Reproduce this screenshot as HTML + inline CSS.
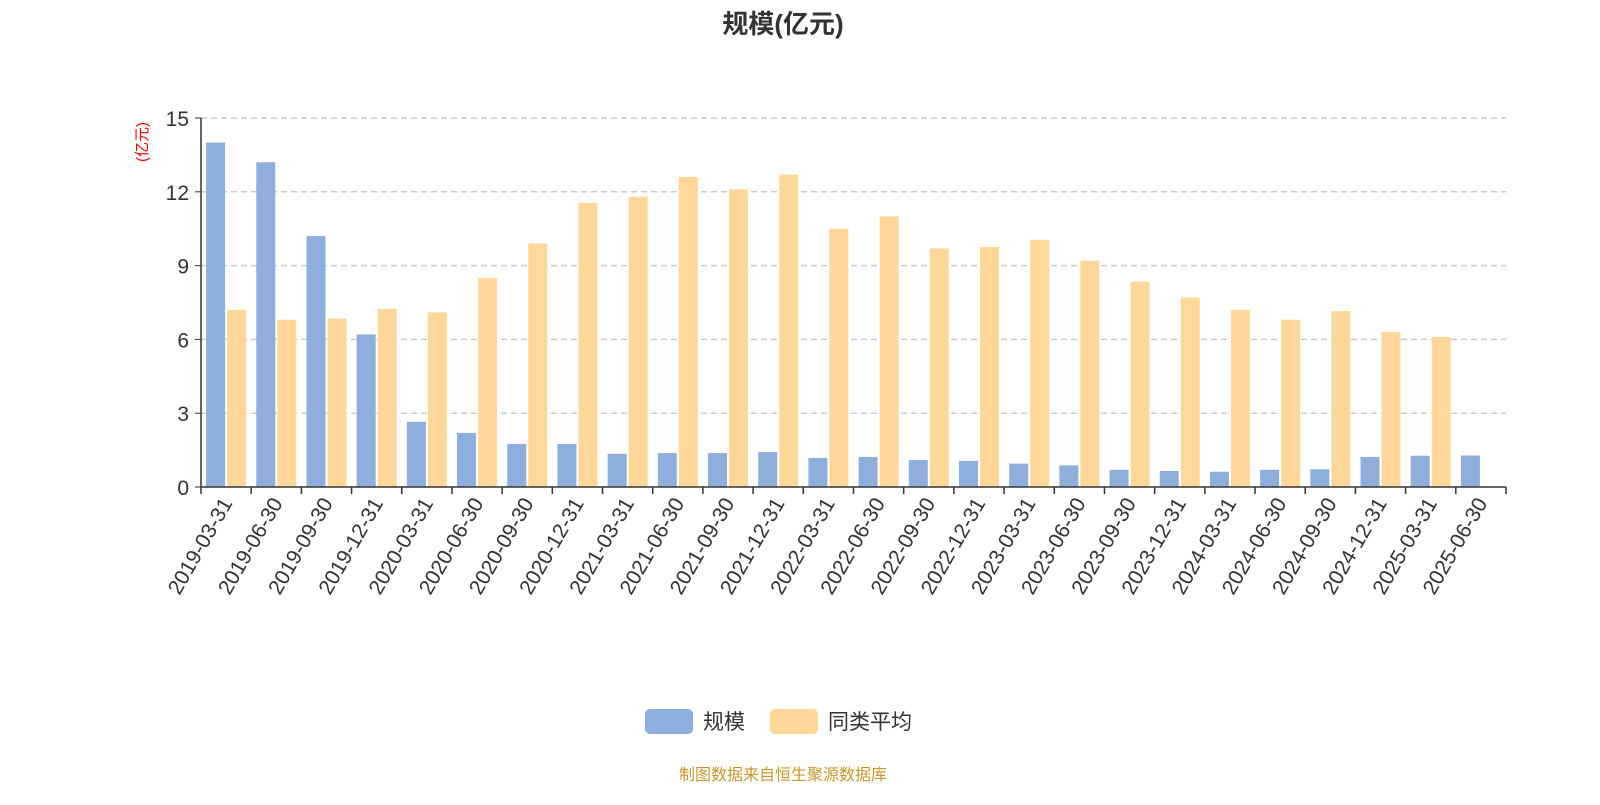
<!DOCTYPE html>
<html><head><meta charset="utf-8"><style>
body{margin:0;background:#fff;font-family:"Liberation Sans","Noto Sans CJK SC",sans-serif}
</style></head><body>
<svg id="c" width="1600" height="800" xmlns="http://www.w3.org/2000/svg" style="font-family:'Liberation Sans','Noto Sans CJK SC',sans-serif">
<text x="783" y="33" text-anchor="middle" font-size="26" font-weight="bold" fill="#333">规模(亿元)</text>
<text transform="translate(147,142) rotate(-90)" text-anchor="middle" font-size="15" fill="#e00">(亿元)</text>
<g id="grid"></g><g id="bars"></g><g id="axes"></g>
<g>
<rect x="645" y="709" width="48" height="25" rx="5" fill="#8eaedb"/>
<text x="703" y="729" font-size="21" fill="#333">规模</text>
<rect x="770" y="709" width="48" height="25" rx="5" fill="#ffd899"/>
<text x="828" y="729" font-size="21" fill="#333">同类平均</text>
</g>
<text x="783" y="780" text-anchor="middle" font-size="16" fill="#c8962a">制图数据来自恒生聚源数据库</text>
</svg>
<script>
const categories=["2019-03-31","2019-06-30","2019-09-30","2019-12-31","2020-03-31","2020-06-30","2020-09-30","2020-12-31","2021-03-31","2021-06-30","2021-09-30","2021-12-31","2022-03-31","2022-06-30","2022-09-30","2022-12-31","2023-03-31","2023-06-30","2023-09-30","2023-12-31","2024-03-31","2024-06-30","2024-09-30","2024-12-31","2025-03-31","2025-06-30"];
const scaleValues=[14.0,13.2,10.2,6.2,2.65,2.2,1.75,1.75,1.35,1.38,1.38,1.42,1.18,1.22,1.1,1.06,0.95,0.88,0.7,0.65,0.62,0.7,0.72,1.22,1.27,1.28];
const avgValues=[7.2,6.8,6.85,7.25,7.1,8.5,9.9,11.55,11.8,12.6,12.1,12.7,10.5,11.0,9.7,9.75,10.05,9.2,8.35,7.7,7.2,6.8,7.15,6.3,6.1,null];
const yTicks=[0,3,6,9,12,15];
const NS="http://www.w3.org/2000/svg";
const X0=201,X1=1506,Y0=487,Y1=118,YMAX=15;
const bw=(X1-X0)/categories.length;
const y=v=>Y0-(v/YMAX)*(Y0-Y1);
const xc=i=>X0+bw*(i+0.5);
function mk(t,a,p){const e=document.createElementNS(NS,t);for(const k in a)e.setAttribute(k,a[k]);p.appendChild(e);return e;}
const grid=document.getElementById('grid'),bars=document.getElementById('bars'),axes=document.getElementById('axes');
yTicks.forEach(t=>{
  if(t>0){const l=mk('line',{x1:X0,x2:X1,y1:y(t),y2:y(t),stroke:'#ccc','stroke-dasharray':'6,4','stroke-width':1.5},grid);
  
  }
  const tx=mk('text',{x:X0-12,y:y(t)+8,'text-anchor':'end','font-size':21,fill:'#333'},axes);tx.textContent=t;
  
  
  mk('line',{x1:X0-6,x2:X0,y1:y(t),y2:y(t),stroke:'#333'},axes);
});
const BW=19,GAP=2;
categories.forEach((c,i)=>{
  const cx=xc(i);
  const v1=scaleValues[i];
  if(v1!=null){const r=mk('rect',{x:cx-GAP/2-BW,y:y(v1),width:BW,height:Y0-y(v1),fill:'#8eaedb'},bars);
  
  }
  const v2=avgValues[i];
  if(v2!=null){const r=mk('rect',{x:cx+GAP/2,y:y(v2),width:BW,height:Y0-y(v2),fill:'#ffd899'},bars);
  
  }
  const tx=mk('text',{transform:`translate(${cx+7},${Y0+16}) rotate(-60)`,'text-anchor':'end','font-size':21,fill:'#333'},axes);
  tx.textContent=c;
  
  
});
for(let i=0;i<=categories.length;i++)mk('line',{x1:X0+bw*i,x2:X0+bw*i,y1:Y0,y2:Y0+7,stroke:'#333','stroke-width':1.5},axes);
const xa=mk('line',{x1:X0,x2:X1,y1:Y0,y2:Y0,stroke:'#333','stroke-width':1.5},axes);


const ya=mk('line',{x1:X0,x2:X0,y1:Y1,y2:Y0,stroke:'#333','stroke-width':1.5},axes);


</script>
</body></html>
